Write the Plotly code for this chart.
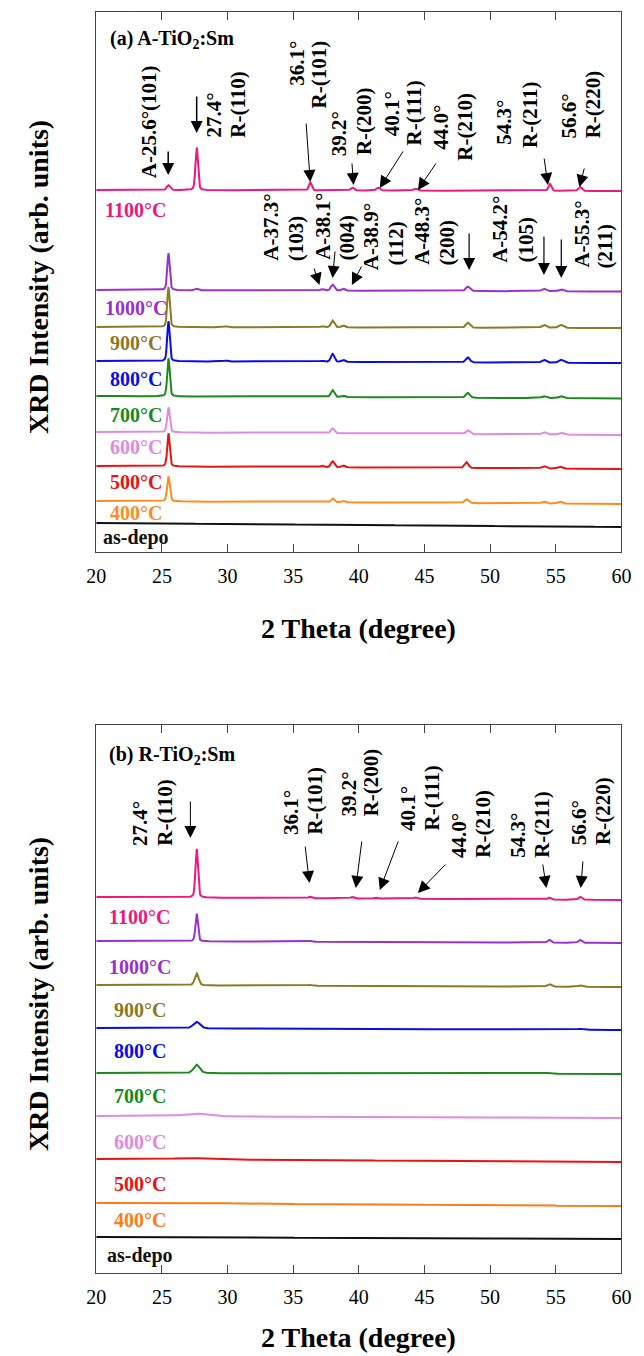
import numpy as np
import plotly.graph_objects as go

# ---------------- data ----------------
tick_vals = [20, 25, 30, 35, 40, 45, 50, 55, 60]
series_labels = ["1100°C", "1000°C", "900°C", "800°C", "700°C", "600°C", "500°C", "400°C", "as-depo"]
colors_a = ["#f0167f", "#9b30d0", "#8a7a22", "#0a0aee", "#1a8a1a", "#e08ae0", "#ee1111", "#ff8c22", "#111111"]
colors_b = ["#f0167f", "#9b30d0", "#8a7a22", "#0a0aee", "#1a8a1a", "#e08ae0", "#ee1111", "#ff7a18", "#111111"]

# panel (a) A-TiO2:Sm : stacking offset, baseline drift, peaks (2theta, height, fwhm)
a_offset = [362, 262, 225, 191, 156, 120, 86, 51, 29]
a_drift = [-1, -1.5, -1, -2, -2.5, -3, -3, -3, -4]
a_peaks = [
    [(25.5, 5, 0.3), (27.65, 43, 0.22), (36.3, 8, 0.25), (39.5, 3, 0.3), (41.45, 3, 0.3),
     (44.3, 2, 0.35), (54.55, 7, 0.25), (56.85, 4, 0.3)],
    [(25.5, 37, 0.22), (27.65, 1.5, 0.3), (37.2, 1.5, 0.3), (38.0, 6, 0.3), (38.8, 2, 0.3),
     (48.3, 4.5, 0.35), (54.1, 2.5, 0.4), (55.4, 2, 0.4)],
    [(25.5, 40, 0.22), (29.9, 1, 0.3), (37.2, 1, 0.3), (38.0, 7, 0.3), (38.8, 2, 0.3),
     (48.3, 5, 0.35), (54.1, 3, 0.4), (55.4, 3, 0.4)],
    [(25.5, 40, 0.22), (29.9, 1, 0.3), (37.2, 1, 0.3), (38.0, 8, 0.3), (38.8, 2, 0.3),
     (48.3, 5, 0.35), (54.1, 3, 0.4), (55.4, 3, 0.4)],
    [(25.5, 38, 0.22), (38.0, 7, 0.3), (38.8, 1.5, 0.3), (48.3, 5, 0.35), (54.1, 2, 0.4), (55.4, 2, 0.4)],
    [(25.5, 25, 0.24), (38.0, 5, 0.3), (48.3, 4, 0.35), (54.1, 2.5, 0.4), (55.4, 2, 0.4)],
    [(25.5, 33, 0.22), (37.2, 1.5, 0.3), (38.0, 6, 0.3), (38.8, 2, 0.3), (48.2, 6, 0.35),
     (54.1, 2.5, 0.4), (55.3, 2, 0.4)],
    [(25.5, 25, 0.24), (38.0, 4, 0.3), (38.8, 1.5, 0.3), (48.2, 4, 0.35), (54.1, 2, 0.4), (55.3, 2, 0.4)],
    [],
]

# panel (b) R-TiO2:Sm
b_offset = [376, 332, 288, 245, 200, 157, 114, 70, 36]
b_drift = [-3, -2, -2, -2, -1, -2, -3, -3, -2]
b_peaks = [
    [(27.65, 49, 0.22), (36.3, 1.5, 0.3), (39.5, 1.5, 0.3), (41.3, 1, 0.3), (44.3, 1.5, 0.3),
     (54.5, 2, 0.3), (56.85, 3, 0.3)],
    [(27.65, 28, 0.22), (36.3, 1, 0.3), (54.5, 3, 0.3), (56.85, 3, 0.3)],
    [(27.65, 12, 0.35), (36.3, 1, 0.4), (54.5, 2.5, 0.4), (56.85, 1.5, 0.4)],
    [(27.65, 6.5, 0.6), (56.85, 1, 0.5)],
    [(27.65, 8.5, 0.55), (54.5, 1, 0.5)],
    [(27.5, 3, 2.0)],
    [(27.0, 1.5, 3.0)],
    [(28.0, 1, 4.0)],
    [],
]

# ---------------- geometry ----------------
W, H = 644, 1356
FONT = "Liberation Serif"
x_dom = [89 / W, 631 / W]
A_BOT, A_TOP = 552, 12
B_BOT, B_TOP = 1273, 725
ya_dom = [1 - A_BOT / H, 1 - A_TOP / H]
yb_dom = [1 - B_BOT / H, 1 - B_TOP / H]


def ya(px):
    return A_BOT - px


def yb(px):
    return B_BOT - px


def pp(px):
    return 1 - px / H


tt = np.arange(20, 60.0001, 0.02)


def pattern(offset, drift, peaks):
    y = offset + drift * (tt - 20) / 40.0
    for pos, h, w in peaks:
        d = (tt - pos) / w
        y = y + h * (0.65 * np.exp(-4 * np.log(2) * d ** 2) + 0.35 / (1 + 4 * d ** 2))
    return y


fig = go.Figure()
for i in range(len(series_labels)):
    fig.add_trace(go.Scatter(x=tt, y=pattern(a_offset[i], a_drift[i], a_peaks[i]), mode="lines",
                             line=dict(color=colors_a[i], width=2), xaxis="x", yaxis="y",
                             showlegend=False, hoverinfo="skip"))
    fig.add_trace(go.Scatter(x=tt, y=pattern(b_offset[i], b_drift[i], b_peaks[i]), mode="lines",
                             line=dict(color=colors_b[i], width=2), xaxis="x2", yaxis="y2",
                             showlegend=False, hoverinfo="skip"))

ann = []

# series labels
a_label_y = [210, 308, 343, 379, 415, 447, 482, 513, 537]
b_label_y = [917, 967, 1010, 1051, 1096, 1142, 1184, 1220, 1255]
for i, lab in enumerate(series_labels):
    ann.append(dict(x=23.0, y=ya(a_label_y[i]), xref="x", yref="y", text="<b>%s</b>" % lab,
                    xanchor="center", yanchor="middle",
                    showarrow=False, font=dict(family=FONT, size=20, color=colors_a[i])))
    ann.append(dict(x=23.3, y=yb(b_label_y[i]), xref="x2", yref="y2", text="<b>%s</b>" % lab,
                    xanchor="center", yanchor="middle",
                    showarrow=False, font=dict(family=FONT, size=20, color=colors_b[i])))

# rotated peak labels: (text, 2theta center, bottom px)
a_texts = [
    ("A-25.6°(101)", 24.0, 180),
    ("27.4°", 28.9, 140), ("R-(110)", 30.74, 140),
    ("36.1°", 35.24, 88), ("R-(101)", 37.0, 110),
    ("39.2°", 38.47, 158), ("R-(200)", 40.4, 157),
    ("40.1°", 42.5, 138), ("R-(111)", 44.2, 147),
    ("44.0°", 46.2, 152), ("R-(210)", 48.07, 163),
    ("54.3°", 51.0, 147), ("R-(211)", 53.0, 150),
    ("56.6°", 56.0, 140), ("R-(220)", 57.86, 140),
    ("A-37.3°", 33.25, 263), ("(103)", 35.24, 263),
    ("A-38.1°", 37.22, 262), ("(004)", 39.07, 263),
    ("A-38.9°", 40.9, 272), ("(112)", 42.8, 268),
    ("A-48.3°", 44.76, 267), ("(200)", 46.75, 267),
    ("A-54.2°", 50.7, 265), ("(105)", 52.7, 265),
    ("A-55.3°", 56.93, 270), ("(211)", 58.78, 270),
]
b_texts = [
    ("27.4°", 23.3, 848), ("R-(110)", 25.18, 848),
    ("36.1°", 34.8, 837), ("R-(101)", 36.63, 837),
    ("39.2°", 39.25, 818), ("R-(200)", 40.95, 818),
    ("40.1°", 43.7, 833), ("R-(111)", 45.5, 833),
    ("44.0°", 47.6, 860), ("R-(210)", 49.44, 860),
    ("54.3°", 52.06, 860), ("R-(211)", 53.9, 860),
    ("56.6°", 56.76, 847), ("R-(220)", 58.6, 847),
]
for t, x, b in a_texts:
    ann.append(dict(x=x, y=ya(b), xref="x", yref="y", text="<b>%s</b>" % t, textangle=-90,
                    xanchor="center", yanchor="bottom", showarrow=False,
                    font=dict(family=FONT, size=21, color="black")))
for t, x, b in b_texts:
    ann.append(dict(x=x, y=yb(b), xref="x2", yref="y2", text="<b>%s</b>" % t, textangle=-90,
                    xanchor="center", yanchor="bottom", showarrow=False,
                    font=dict(family=FONT, size=21, color="black")))

# arrows: (tail x, tail px, head x, head px, line width)
a_arrows = [
    (25.48, 150, 25.48, 175, 1.5), (27.65, 95, 27.65, 133, 1.5),
    (35.98, 122, 36.3, 182, 1), (39.47, 162, 39.6, 185, 1), (43.44, 150, 41.59, 188, 1),
    (45.95, 162, 44.5, 190, 1), (54.1, 157, 54.4, 185, 1), (57.2, 167, 56.8, 187, 1),
    (36.56, 267, 37.0, 285, 1), (38.2, 250, 38.0, 278, 1), (40.26, 265, 39.47, 285, 1),
    (48.4, 232, 48.4, 270, 1.2), (54.1, 235, 54.1, 275, 1.2), (55.42, 238, 55.42, 278, 1.2),
]
b_arrows = [
    (27.17, 800, 27.17, 838, 1), (35.9, 845, 36.24, 883, 1), (40.24, 840, 39.77, 888, 1),
    (43.04, 840, 41.6, 890, 1), (46.7, 863, 44.5, 893, 1), (54.0, 863, 54.28, 888, 1),
    (57.08, 860, 56.9, 888, 1),
]
for tx, ty, hx, hy, w in a_arrows:
    ann.append(dict(x=hx, y=ya(hy), ax=tx, ay=ya(ty), xref="x", yref="y", axref="x", ayref="y",
                    text="", showarrow=True, arrowhead=2, arrowsize=2.4 / w, arrowwidth=w,
                    arrowcolor="black", standoff=0))
for tx, ty, hx, hy, w in b_arrows:
    ann.append(dict(x=hx, y=yb(hy), ax=tx, ay=yb(ty), xref="x2", yref="y2", axref="x2", ayref="y2",
                    text="", showarrow=True, arrowhead=2, arrowsize=2.4 / w, arrowwidth=w,
                    arrowcolor="black", standoff=0))

# panel titles
ann.append(dict(x=101 / W, y=pp(40), xref="paper", yref="paper", xanchor="left", yanchor="middle",
                text="<b>(a) A-TiO<sub>2</sub>:Sm</b>", showarrow=False,
                font=dict(family=FONT, size=20, color="black")))
ann.append(dict(x=100 / W, y=pp(755), xref="paper", yref="paper", xanchor="left", yanchor="middle",
                text="<b>(b) R-TiO<sub>2</sub>:Sm</b>", showarrow=False,
                font=dict(family=FONT, size=20, color="black")))

# axis titles
for yc in (277, 994):
    ann.append(dict(x=30 / W, y=pp(yc), xref="paper", yref="paper", textangle=-90,
                    xanchor="center", yanchor="middle",
                    text="<b>XRD Intensity (arb. units)</b>", showarrow=False,
                    font=dict(family=FONT, size=28, color="black")))
for yc in (628, 1337):
    ann.append(dict(x=360 / W, y=pp(yc), xref="paper", yref="paper",
                    xanchor="center", yanchor="middle",
                    text="<b>2 Theta (degree)</b>", showarrow=False,
                    font=dict(family=FONT, size=28, color="black")))

xcommon = dict(range=[20, 60], tickvals=tick_vals, ticks="inside", ticklen=8, tickwidth=1,
               tickcolor="#444", showline=True, linecolor="#444", linewidth=1, mirror="ticks",
               showgrid=False, zeroline=False, ticklabelstandoff=6,
               tickfont=dict(family=FONT, size=20, color="black"), domain=x_dom)
ycommon = dict(showline=True, linecolor="#444", linewidth=1, mirror=True, showticklabels=False,
               ticks="", showgrid=False, zeroline=False)

fig.update_layout(
    width=W, height=H, margin=dict(l=0, r=0, t=0, b=0),
    paper_bgcolor="white", plot_bgcolor="white",
    xaxis=dict(anchor="y", **xcommon),
    xaxis2=dict(anchor="y2", **xcommon),
    yaxis=dict(anchor="x", domain=ya_dom, range=[0, A_BOT - A_TOP], **ycommon),
    yaxis2=dict(anchor="x2", domain=yb_dom, range=[0, B_BOT - B_TOP], **ycommon),
    annotations=ann,
    showlegend=False,
)

fig.write_html("out.html", config={"displayModeBar": False},
               post_script="document.body.style.margin='0';document.body.style.padding='0';"
                           "document.documentElement.style.overflow='hidden';")
